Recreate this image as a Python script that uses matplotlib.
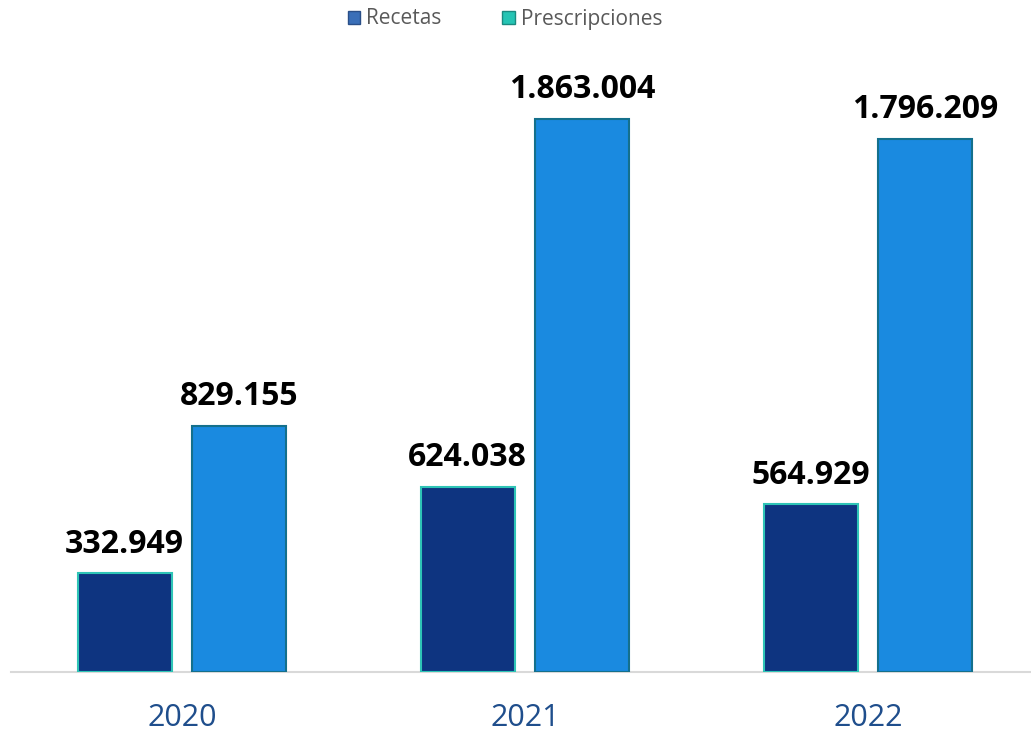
import matplotlib
matplotlib.use("Agg")
import matplotlib.pyplot as plt
from matplotlib.patches import Patch
import numpy as np

years = ["2020", "2021", "2022"]
recetas = [332949, 624038, 564929]
prescripciones = [829155, 1863004, 1796209]
series_names = ["Recetas", "Prescripciones"]

def fmt(v):
    return f"{v:,}".replace(",", ".")

fig = plt.figure(figsize=(10.31, 7.36), dpi=100)
ax = fig.add_axes([10.5 / 1031, 64 / 736, 1029 / 1031, 632 / 736])

x = np.arange(len(years))
w = 0.275
off = 0.167

b1 = ax.bar(x - off, recetas, w, color="#0E3480", edgecolor="#2EC4B6", linewidth=1.5, zorder=3)
b2 = ax.bar(x + off, prescripciones, w, color="#1A8AE0", edgecolor="#14708C", linewidth=1.5, zorder=3)

for bars, vals in ((b1, recetas), (b2, prescripciones)):
    for rect, v in zip(bars, vals):
        ax.annotate(fmt(v), (rect.get_x() + rect.get_width() / 2, v),
                    xytext=(0, 9), textcoords="offset points",
                    ha="center", va="bottom", fontsize=23, fontweight="bold",
                    family=["Open Sans", "DejaVu Sans"], color="#000000")

ax.set_xlim(-0.5, 2.5)
ax.set_ylim(0, 2129135)
ax.set_xticks(x)
ax.set_xticklabels(years, fontsize=22, color="#1F4E8C", family=["Open Sans", "DejaVu Sans"])
ax.tick_params(axis="x", length=0, pad=22)
ax.set_yticks([])
for s in ("left", "right", "top"):
    ax.spines[s].set_visible(False)
ax.spines["bottom"].set_color("#D9D9D9")
ax.spines["bottom"].set_linewidth(1.5)

handles = [Patch(facecolor="#3A6FB8", edgecolor="#2A4F88"),
           Patch(facecolor="#25C4B4", edgecolor="#1A8A80")]
fig.legend(handles, series_names, loc="center", bbox_to_anchor=(505 / 1031, 1 - 19 / 736),
           ncol=2, frameon=False, handlelength=0.6, handleheight=0.6,
           handletextpad=0.3, columnspacing=2.9,
           prop={"family": ["Open Sans", "DejaVu Sans"], "size": 15}, labelcolor="#595959")

fig.savefig("out.png", dpi=100)
